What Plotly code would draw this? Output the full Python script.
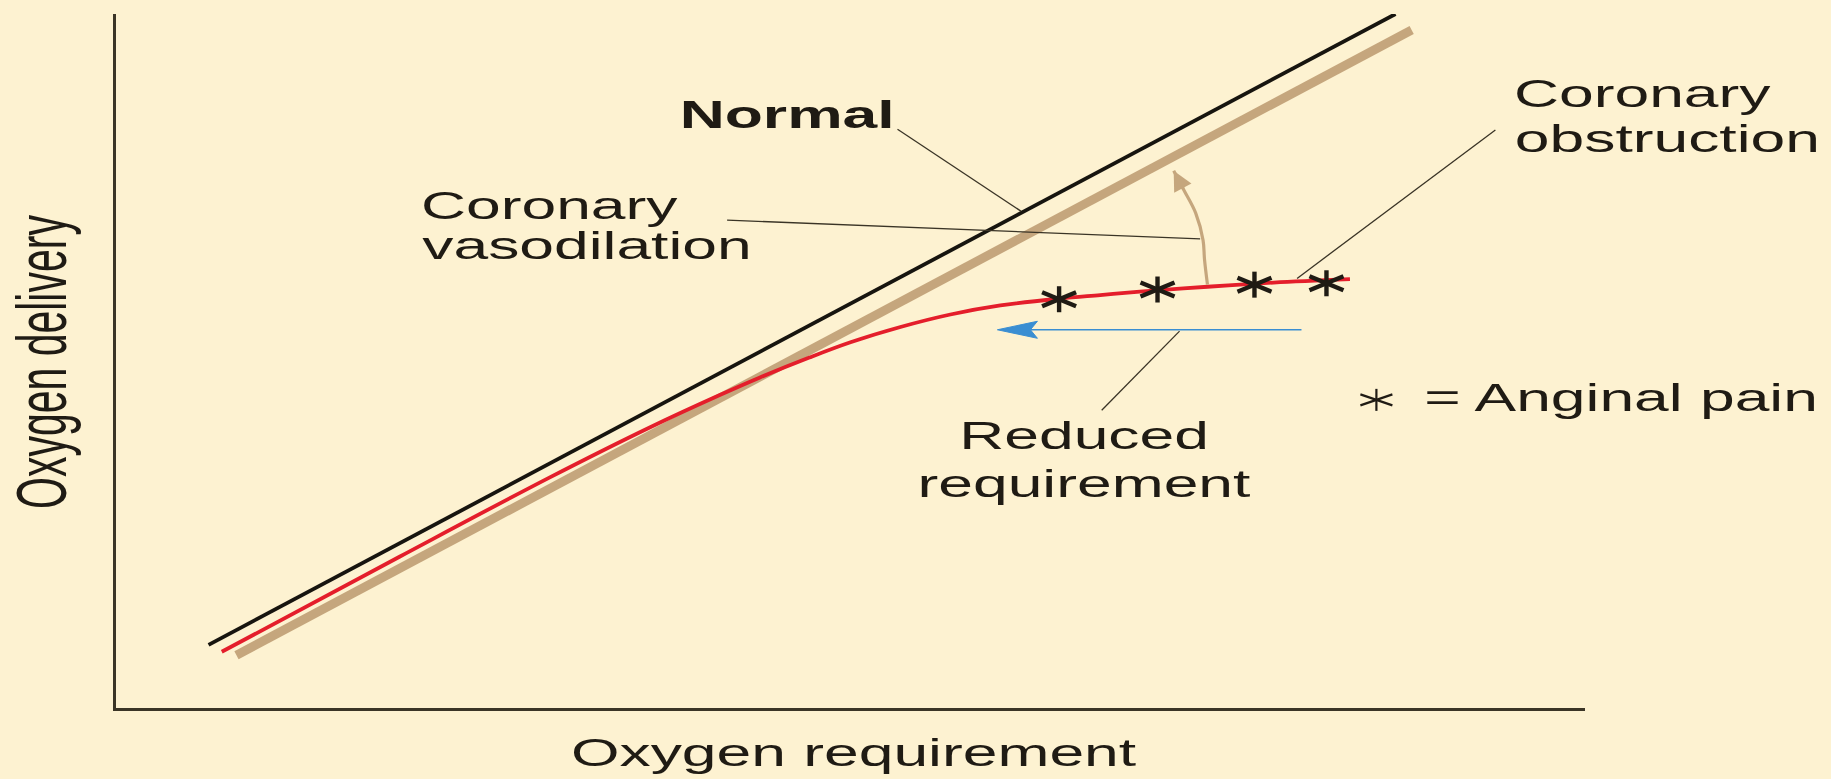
import plotly.graph_objects as go

# ---------------- data (axis box: x = oxygen requirement 0..100, y = oxygen delivery 0..100) -------------
normal_x = [6.3, 87.1]
normal_y = [9.1, 100.0]

vasodilation_x = [8.2, 88.2]
vasodilation_y = [7.6, 97.7]

obstruction_x = [7.2, 19.3, 29.5, 36.4, 41.1, 43.8, 47.2, 50.0, 53.4, 56.8, 60.2, 64.3, 67.0, 69.7, 74.3, 78.8, 84.0]
obstruction_y = [8.1, 21.8, 33.2, 40.5, 45.1, 47.6, 50.5, 52.7, 54.9, 56.7, 58.0, 59.0, 59.5, 60.0, 60.7, 61.3, 61.8]

pain_x = [64.2, 70.9, 77.5, 82.4]
pain_y = [58.9, 60.3, 61.0, 61.2]

reduced_x = [80.7, 60.0]      # tail -> head
reduced_y = [54.5, 54.5]

dilation_arc_x = [74.3, 74.1, 74.0, 73.5, 72.7, 72.0]
dilation_arc_y = [61.0, 64.6, 67.4, 71.3, 74.6, 77.4]

leader_normal_x = [53.2, 61.6]
leader_normal_y = [83.4, 71.6]
leader_vaso_x = [41.6, 73.8]
leader_vaso_y = [70.3, 67.6]
leader_obst_x = [93.9, 80.4]
leader_obst_y = [83.3, 61.9]
leader_reduced_x = [72.4, 67.1]
leader_reduced_y = [54.3, 42.9]

legend_star_x = [85.8]
legend_star_y = [44.4]

# ---------------- layout constants ----------------
W, H = 1831, 779
ML, MR, MT, MB = 116, 246, 14, 71
PW, PH = W - ML - MR, H - MT - MB
PX_X = PW / 100.0   # pixels per data unit
PX_Y = PH / 100.0

BG = "#FDF2D1"
INK = "#1f1b14"
TAN = "#C5A67D"
RED = "#E41E2B"
BLUE = "#3A8ED2"
FONT = "Liberation Sans, Arial, sans-serif"


def asterisks(cx, cy, half_w, half_h, diag_dy):
    xs, ys = [], []
    dx, dh, dd = half_w / PX_X, half_h / PX_Y, diag_dy / PX_Y
    for x0, y0 in zip(cx, cy):
        xs += [x0, x0, None, x0 - dx, x0 + dx, None, x0 - dx, x0 + dx, None]
        ys += [y0 - dh, y0 + dh, None, y0 - dd, y0 + dd, None, y0 + dd, y0 - dd, None]
    return xs, ys


fig = go.Figure()

def line(x, y, color, width, shape="linear"):
    fig.add_trace(go.Scatter(x=x, y=y, mode="lines", line=dict(color=color, width=width, shape=shape),
                             hoverinfo="skip", showlegend=False))

line(vasodilation_x, vasodilation_y, TAN, 9)
line(normal_x, normal_y, "#17150f", 3.8)
line(obstruction_x, obstruction_y, RED, 3.8, "spline")

for lx, ly in [(leader_normal_x, leader_normal_y), (leader_vaso_x, leader_vaso_y),
               (leader_obst_x, leader_obst_y), (leader_reduced_x, leader_reduced_y)]:
    line(lx, ly, "#3a3426", 1.3)

line(dilation_arc_x, dilation_arc_y, TAN, 3.2, "spline")

# blue arrow: shaft + barbed head computed from the head point
head_len, head_half, notch = 40 / PX_X, 8.5 / PX_Y, 7 / PX_X
hx, hy = reduced_x[1], reduced_y[1]
line([reduced_x[0], hx + head_len - notch], reduced_y, BLUE, 1.6)
fig.add_trace(go.Scatter(
    x=[hx, hx + head_len, hx + head_len - notch, hx + head_len, hx],
    y=[hy, hy + head_half, hy, hy - head_half, hy],
    mode="lines", fill="toself", fillcolor=BLUE, line=dict(color=BLUE, width=1),
    hoverinfo="skip", showlegend=False))

sx, sy = asterisks(pain_x, pain_y, 17, 13, 7)
line(sx, sy, INK, 4.4)
lx, ly = asterisks(legend_star_x, legend_star_y, 16, 11, 5.5)
line(lx, ly, INK, 2.2)

annotations = [
    dict(x=dilation_arc_x[-1], y=dilation_arc_y[-1], ax=dilation_arc_x[-2], ay=dilation_arc_y[-2],
         xref="x", yref="y", axref="x", ayref="y", text="", showarrow=True,
         arrowhead=2, arrowsize=1.3, arrowwidth=3, arrowcolor=TAN, standoff=0),
]

labels = [
    ("<b>Normal</b>", 786.5, 114.5),
    ("Coronary", 549.5, 205.5),
    ("vasodilation", 586.5, 245.5),
    ("Coronary", 1642.5, 93.5),
    ("obstruction", 1667.0, 138.5),
    ("= Anginal pain", 1621.0, 397.5),
    ("Reduced", 1084.0, 435.5),
    ("requirement", 1084.0, 483.5),
    ("Oxygen requirement", 854.0, 752.5),
]
for txt, px, py in labels:
    annotations.append(dict(
        text=txt, x=(px - ML) / PW, y=(MT + PH - py) / PH, xref="paper", yref="paper",
        xanchor="center", yanchor="middle", showarrow=False,
        font=dict(family=FONT, size=39, color=INK)))
annotations.append(dict(
    text="Oxygen delivery", x=(42 - ML) / PW, y=(MT + PH - 362) / PH, xref="paper", yref="paper",
    xanchor="center", yanchor="middle", showarrow=False, textangle=-90,
    font=dict(family=FONT, size=41, color=INK)))

axis_common = dict(range=[0, 100], showgrid=False, zeroline=False, showticklabels=False,
                   ticks="", showline=True, linecolor="#3b3526", linewidth=2.5, fixedrange=True)
fig.update_layout(
    width=W, height=H, margin=dict(l=ML, r=MR, t=MT, b=MB, pad=0),
    paper_bgcolor=BG, plot_bgcolor=BG,
    xaxis=axis_common, yaxis=axis_common,
    annotations=annotations, hovermode=False, showlegend=False,
)

stretch_js = """
document.documentElement.style.margin = '0';
document.body.style.margin = '0';
document.body.style.overflow = 'hidden';
document.body.style.background = '%s';
var gd = document.getElementById('{plot_id}');
gd.querySelectorAll('text.annotation-text').forEach(function(t){
  var s = t.textContent;
  if (!s) return;
  t.style.transformBox = 'fill-box';
  t.style.transformOrigin = 'center';
  t.style.transform = (s === 'Oxygen delivery') ? 'scaleY(1.7)' : 'scaleX(1.6)';
});
""" % BG

fig.write_html("out.html", config={"displayModeBar": False}, post_script=stretch_js)
